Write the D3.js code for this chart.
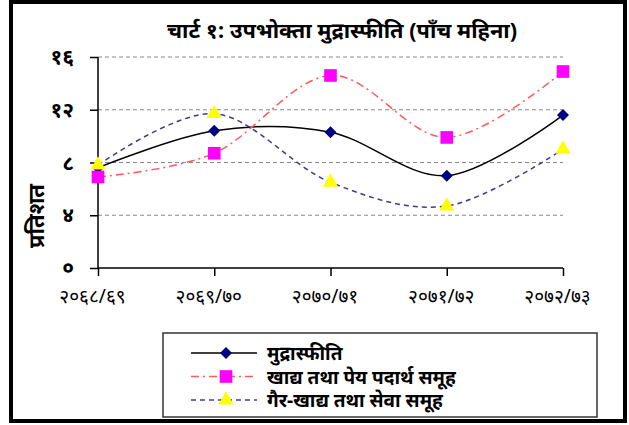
<!DOCTYPE html>
<html>
<head>
<meta charset="utf-8">
<script src="https://cdn.jsdelivr.net/npm/d3@7"></script>
<style>
  body { margin: 0; background: #fff; }
  svg { display: block; }
  text { font-family: "Noto Sans", "DejaVu Sans", sans-serif; }
</style>
</head>
<body>
<script>
    //Width and height
    var w = 629;
    var h = 425;

    //Data
    var categories = ["२०६८/६९", "२०६९/७०", "२०७०/७१", "२०७१/७२", "२०७२/७३"];
    var inflation = [7.6, 10.4, 10.3, 7.0, 11.6];
    var foodGroup = [6.9, 8.7, 14.6, 9.9, 14.9];
    var nonFoodGroup = [7.8, 11.7, 6.5, 4.7, 9.0];
    var yTicks = [0, 4, 8, 12, 16];
    var yTickLabels = ["०", "४", "८", "१२", "१६"];
    var seriesNames = ["मुद्रास्फीति", "खाद्य तथा पेय पदार्थ समूह", "गैर-खाद्य तथा सेवा समूह"];

    var svg = d3.select("body")
                .append("svg")
                .attr("width", w)
                .attr("height", h);

    svg.append("rect")
       .attr("width", w).attr("height", h)
       .attr("fill", "#fff");

    //outer frame
    svg.append("rect")
       .attr("x", 11).attr("y", 2)
       .attr("width", 614).attr("height", 419)
       .attr("fill", "none")
       .attr("stroke", "#000")
       .attr("stroke-width", 4);

    //scales
    var x = d3.scalePoint().domain(categories).range([98, 563]);
    var y = d3.scaleLinear().domain([0, 16]).range([268, 57]);

    //title
    svg.append("text")
       .attr("x", 342).attr("y", 38)
       .attr("text-anchor", "middle")
       .attr("font-size", 21)
       .attr("font-weight", "bold")
       .attr("textLength", 350)
       .attr("lengthAdjust", "spacingAndGlyphs")
       .text("चार्ट १: उपभोक्ता मुद्रास्फीति (पाँच महिना)");

    //grid lines
    svg.append("g")
       .selectAll("line")
       .data(yTicks.slice(1))
       .enter()
       .append("line")
       .attr("x1", 98).attr("x2", 563)
       .attr("y1", function(d) { return y(d); })
       .attr("y2", function(d) { return y(d); })
       .attr("stroke", "#888")
       .attr("stroke-width", 1)
       .attr("stroke-dasharray", "4,3");

    //y axis
    var yAxis = d3.axisLeft(y)
        .tickValues(yTicks)
        .tickSize(8)
        .tickPadding(16)
        .tickFormat(function(d, i) { return yTickLabels[i]; });
    var gy = svg.append("g")
        .attr("transform", "translate(98,0)")
        .call(yAxis);
    gy.select(".domain").attr("stroke", "#000").attr("stroke-width", 1.5).attr("d", "M0," + y(16) + "V" + y(0));
    gy.selectAll(".tick line").attr("stroke", "#000").attr("stroke-width", 1.5);
    gy.selectAll(".tick text")
      .attr("font-size", 21)
      .attr("font-weight", "bold")
      .attr("font-family", "Noto Sans, DejaVu Sans, sans-serif")
      .attr("fill", "#000");

    //x axis
    var xAxis = d3.axisBottom(x).tickSize(8).tickPadding(14);
    var gx = svg.append("g")
        .attr("transform", "translate(0," + y(0) + ")")
        .call(xAxis);
    gx.select(".domain").attr("stroke", "#000").attr("stroke-width", 1.5).attr("d", "M98,0H563");
    gx.selectAll(".tick line").attr("stroke", "#000").attr("stroke-width", 1.5);
    gx.selectAll(".tick text")
      .attr("font-size", 19)
      .attr("dx", -6)
      .attr("font-family", "Noto Sans, DejaVu Sans, sans-serif")
      .attr("fill", "#000");

    //y title
    svg.append("text")
       .attr("transform", "translate(44,216) rotate(-90)")
       .attr("text-anchor", "middle")
       .attr("font-size", 22)
       .attr("font-weight", "bold")
       .text("प्रतिशत");

    //series lines
    var series = [
      { name: seriesNames[0], values: inflation, stroke: "#000", dash: null, width: 1.5, marker: d3.symbolSquare, rot: 45, fill: "#000080", size: 72 },
      { name: seriesNames[1], values: foodGroup, stroke: "#ff5a5a", dash: "8,4,2,4", width: 1.5, marker: d3.symbolSquare, rot: 0, fill: "#ff00ff", size: 160 },
      { name: seriesNames[2], values: nonFoodGroup, stroke: "#3c3c8c", dash: "5,4", width: 1.5, marker: d3.symbolTriangle, rot: 0, fill: "#ffff00", size: 100 }
    ];

    var line = d3.line()
        .x(function(d, i) { return x(categories[i]); })
        .y(function(d) { return y(d); })
        .curve(d3.curveCatmullRom.alpha(0));

    series.forEach(function(s) {
      svg.append("path")
         .attr("d", line(s.values))
         .attr("fill", "none")
         .attr("stroke", s.stroke)
         .attr("stroke-width", s.width)
         .attr("stroke-dasharray", s.dash);
    });

    //markers on top
    series.forEach(function(s) {
      svg.append("g")
         .selectAll("path")
         .data(s.values)
         .enter()
         .append("path")
         .attr("transform", function(d, i) { return "translate(" + x(categories[i]) + "," + y(d) + ") rotate(" + s.rot + ")"; })
         .attr("d", d3.symbol().type(s.marker).size(s.size))
         .attr("fill", s.fill);
    });

    //legend
    var lg = svg.append("g");
    lg.append("rect")
      .attr("x", 163).attr("y", 333)
      .attr("width", 434).attr("height", 84)
      .attr("fill", "#fff")
      .attr("stroke", "#333")
      .attr("stroke-width", 1.5);

    var items = lg.selectAll("g.item")
      .data(series)
      .enter()
      .append("g")
      .attr("class", "item")
      .attr("transform", function(d, i) { return "translate(0," + (353 + i * 23.5) + ")"; });

    items.append("line")
      .attr("x1", 191).attr("x2", 257)
      .attr("y1", 0).attr("y2", 0)
      .attr("stroke", function(d) { return d.stroke; })
      .attr("stroke-width", 1.5)
      .attr("stroke-dasharray", function(d) { return d.dash; });

    items.append("path")
      .attr("transform", function(d) { return "translate(226,0) rotate(" + d.rot + ")"; })
      .attr("d", function(d) { return d3.symbol().type(d.marker).size(d.size)(); })
      .attr("fill", function(d) { return d.fill; });

    items.append("text")
      .attr("x", 267).attr("y", 7)
      .attr("font-size", 19)
      .attr("font-weight", "bold")
      .text(function(d) { return d.name; });
</script>
</body>
</html>
